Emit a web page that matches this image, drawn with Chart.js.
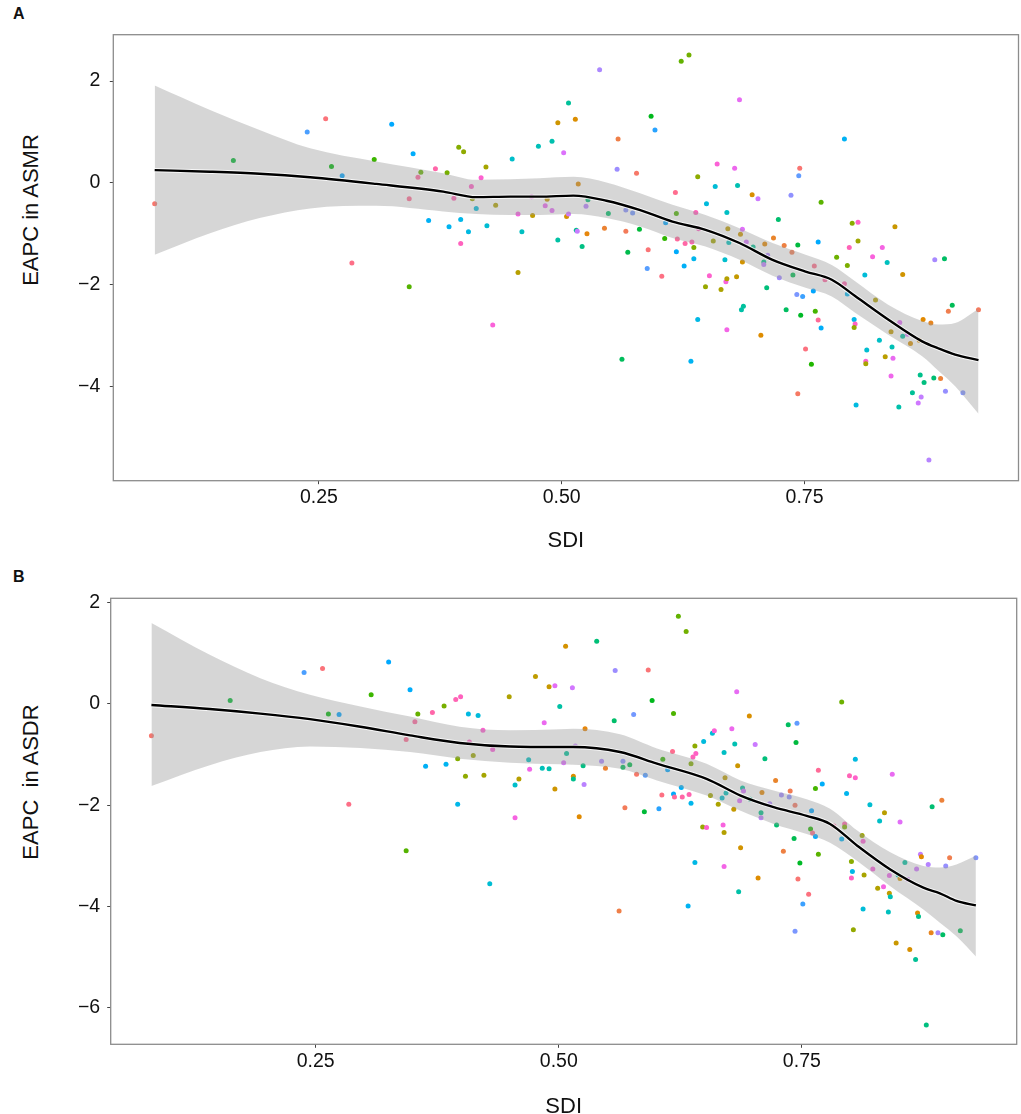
<!DOCTYPE html>
<html>
<head>
<meta charset="utf-8">
<title>EAPC vs SDI</title>
<script src="https://cdn.jsdelivr.net/npm/chart.js@4.4.1/dist/chart.umd.min.js"></script>
<style>
  html, body { margin: 0; padding: 0; background: #fff; overflow: hidden; }
  body { width: 1021px; height: 1114px; position: relative; font-family: "Liberation Sans", Arial, sans-serif; color: #111; }
  canvas { position: absolute; left: 0; }
  #chartA { top: 0; }
  #chartB { top: 557px; }
  .tag { position: absolute; left: 13px; font-size: 16px; font-weight: bold; line-height: 16px; }
  .ytitle { position: absolute; font-size: 22px; line-height: 22px; white-space: pre;
            transform: translate(-50%, -50%) rotate(-90deg); }
</style>
</head>
<body>
<div class="tag" style="top:6px">A</div>
<div class="tag" style="top:569px">B</div>
<div class="ytitle" style="left:31px; top:210px">EAPC in ASMR</div>
<div class="ytitle" style="left:31px; top:782px">EAPC  in ASDR</div>
<canvas id="chartA" width="1021" height="557"></canvas>
<canvas id="chartB" width="1021" height="570"></canvas>
<script>
// ---- data ----
const xTicks = [0.25, 0.5, 0.75];
const xTickLabels = ['0.25', '0.50', '0.75'];
const yTicksA = [-4, -2, 0, 2];
const yTicksB = [-6, -4, -2, 0, 2];

// panel A: SDI vs EAPC in ASMR
const sdiA = [0.081, 0.162, 0.238, 0.257, 0.263, 0.274, 0.284, 0.307, 0.325, 0.343, 0.343, 0.347, 0.352, 0.355, 0.363, 0.370, 0.382, 0.384, 0.389, 0.394,
  0.396, 0.396, 0.399, 0.404, 0.407, 0.408, 0.412, 0.417, 0.422, 0.423, 0.429, 0.432, 0.449, 0.455, 0.455, 0.459, 0.469, 0.470, 0.476, 0.483,
  0.485, 0.490, 0.490, 0.496, 0.496, 0.502, 0.505, 0.507, 0.507, 0.514, 0.515, 0.516, 0.517, 0.521, 0.525, 0.526, 0.527, 0.539, 0.544, 0.548,
  0.557, 0.558, 0.562, 0.566, 0.566, 0.568, 0.573, 0.577, 0.580, 0.588, 0.589, 0.592, 0.596, 0.603, 0.606, 0.607, 0.617, 0.618, 0.618, 0.619,
  0.623, 0.626, 0.627, 0.631, 0.633, 0.634, 0.636, 0.636, 0.638, 0.640, 0.640, 0.641, 0.648, 0.649, 0.652, 0.656, 0.658, 0.660, 0.664, 0.668,
  0.669, 0.670, 0.670, 0.670, 0.671, 0.672, 0.678, 0.680, 0.681, 0.683, 0.684, 0.685, 0.686, 0.686, 0.687, 0.690, 0.696, 0.697, 0.702, 0.705,
  0.708, 0.708, 0.709, 0.711, 0.712, 0.718, 0.723, 0.724, 0.729, 0.731, 0.736, 0.737, 0.738, 0.742, 0.743, 0.743, 0.744, 0.745, 0.746, 0.748,
  0.751, 0.757, 0.759, 0.760, 0.761, 0.764, 0.764, 0.767, 0.767, 0.771, 0.783, 0.791, 0.791, 0.794, 0.794, 0.796, 0.799, 0.801, 0.802, 0.801,
  0.803, 0.805, 0.805, 0.812, 0.813, 0.813, 0.814, 0.820, 0.823, 0.827, 0.830, 0.833, 0.835, 0.839, 0.839, 0.840, 0.841, 0.843, 0.847, 0.848,
  0.851, 0.851, 0.856, 0.859, 0.861, 0.867, 0.868, 0.869, 0.870, 0.872, 0.873, 0.878, 0.880, 0.883, 0.884, 0.890, 0.894, 0.895, 0.898, 0.902,
  0.913, 0.929];
const eapcAsmr = [-0.41, 0.44, 1.00, 1.26, 0.32, 0.14, -1.57, 0.46, 1.15, -0.31, -2.04, 0.57, 0.11, 0.21, -0.74, 0.28, 0.20, -0.86, -0.30, 0.70,
  -0.72, -1.19, 0.61, -0.96, -0.07, -0.31, -0.50, 0.10, 0.31, -0.84, -2.79, -0.44, 0.47, -0.61, -1.76, -0.96, -0.27, -0.64, 0.72, -0.45,
  -0.32, 0.82, -0.54, 1.18, -1.12, 0.59, -0.66, 1.57, -0.61, 1.25, -0.93, -0.95, -0.02, -1.25, -0.46, -1.00, -0.33, 2.22, -0.89, -0.60,
  0.27, 0.86, -3.46, -0.53, -0.95, -1.36, -0.59, 0.19, -0.91, -1.68, -1.31, 1.31, 1.04, -1.83, -1.09, -0.78, -0.19, -0.60, -1.35, -1.10,
  2.39, -1.63, -1.19, 2.51, -3.50, -1.16, -1.27, -1.49, -0.58, 0.12, -2.68, -0.90, -2.04, -0.41, -1.82, -1.14, -0.07, 0.37, -2.09, -1.51,
  -1.94, -1.88, -0.58, -2.88, -0.90, -1.17, 0.29, -1.84, -0.05, 1.63, -1.01, -2.49, -0.91, -1.55, -2.42, -1.16, -0.23, -1.26, -0.31, -2.99,
  -1.55, -1.60, -1.20, -2.06, -1.42, -1.08, -0.72, -1.86, -1.23, -2.49, -0.24, -1.36, -1.81, -2.19, -4.14, -1.22, 0.14, 0.29, -2.60, -2.23,
  -3.26, -3.56, -2.12, -1.63, -2.52, -1.16, -2.69, -0.38, -2.85, -1.90, -1.46, 0.86, -1.98, -1.62, -2.18, -1.27, -0.79, -2.68, -2.77, -2.84,
  -4.36, -0.77, -1.14, -1.81, -3.50, -3.55, -3.28, -1.45, -2.30, -3.09, -1.27, -3.41, -1.56, -3.79, -2.92, -3.22, -3.44, -0.86, -4.40, -2.74,
  -1.80, -3.01, -2.97, -3.15, -4.12, -4.32, -3.09, -3.77, -4.20, -2.68, -3.92, -5.44, -2.75, -3.83, -1.51, -3.84, -1.49, -4.09, -2.52, -2.40,
  -4.12, -2.49];
const smoothSdiA = [0.081, 0.138, 0.189, 0.241, 0.309, 0.378, 0.412, 0.447, 0.477, 0.512, 0.546, 0.580, 0.614, 0.648, 0.683, 0.717, 0.751, 0.778, 0.802, 0.836, 0.871, 0.888, 0.905, 0.929];
const fitA = [0.25, 0.22, 0.18, 0.11, -0.02, -0.17, -0.28, -0.27, -0.27, -0.25, -0.35, -0.53, -0.76, -0.92, -1.18, -1.51, -1.74, -1.90, -2.22, -2.68, -3.11, -3.25, -3.37, -3.48];
const upperA = [1.91, 1.43, 1.04, 0.68, 0.42, 0.19, 0.06, 0.07, 0.09, 0.12, 0.01, -0.20, -0.43, -0.63, -0.89, -1.18, -1.41, -1.61, -1.93, -2.39, -2.71, -2.78, -2.75, -2.47];
const lowerA = [-1.41, -0.99, -0.69, -0.50, -0.45, -0.56, -0.61, -0.63, -0.63, -0.61, -0.69, -0.85, -1.08, -1.25, -1.51, -1.82, -2.06, -2.23, -2.55, -2.98, -3.40, -3.69, -3.99, -4.53];

// panel B: SDI vs EAPC in ASDR
const sdiB = [0.081, 0.162, 0.238, 0.257, 0.263, 0.274, 0.284, 0.307, 0.325, 0.343, 0.343, 0.347, 0.352, 0.355, 0.363, 0.370, 0.382, 0.384, 0.394, 0.396,
  0.396, 0.399, 0.404, 0.407, 0.408, 0.412, 0.417, 0.422, 0.423, 0.429, 0.432, 0.449, 0.455, 0.455, 0.459, 0.469, 0.470, 0.476, 0.483, 0.485,
  0.490, 0.490, 0.496, 0.496, 0.501, 0.505, 0.507, 0.508, 0.514, 0.515, 0.515, 0.517, 0.521, 0.525, 0.526, 0.527, 0.539, 0.544, 0.548, 0.557,
  0.558, 0.562, 0.566, 0.566, 0.568, 0.573, 0.577, 0.580, 0.588, 0.589, 0.592, 0.596, 0.603, 0.606, 0.607, 0.612, 0.617, 0.618, 0.618, 0.619,
  0.623, 0.626, 0.627, 0.631, 0.633, 0.634, 0.636, 0.636, 0.638, 0.640, 0.640, 0.641, 0.648, 0.649, 0.652, 0.656, 0.658, 0.660, 0.664, 0.668,
  0.669, 0.670, 0.670, 0.670, 0.671, 0.672, 0.678, 0.680, 0.681, 0.683, 0.684, 0.685, 0.686, 0.687, 0.689, 0.690, 0.696, 0.697, 0.702, 0.705,
  0.708, 0.708, 0.709, 0.712, 0.717, 0.723, 0.724, 0.729, 0.731, 0.736, 0.737, 0.738, 0.742, 0.743, 0.743, 0.744, 0.745, 0.746, 0.748, 0.751,
  0.757, 0.759, 0.760, 0.761, 0.764, 0.764, 0.767, 0.767, 0.771, 0.783, 0.791, 0.791, 0.794, 0.794, 0.796, 0.799, 0.801, 0.802, 0.801, 0.803,
  0.805, 0.805, 0.812, 0.813, 0.813, 0.814, 0.820, 0.823, 0.828, 0.830, 0.834, 0.835, 0.839, 0.840, 0.840, 0.841, 0.843, 0.847, 0.849, 0.851,
  0.851, 0.856, 0.859, 0.861, 0.867, 0.868, 0.869, 0.870, 0.872, 0.873, 0.878, 0.880, 0.883, 0.884, 0.890, 0.894, 0.895, 0.898, 0.902, 0.913,
  0.929];
const eapcAsdr = [-0.63, 0.07, 0.62, 0.70, -0.20, -0.21, -1.98, 0.18, 0.83, -0.70, -2.90, 0.28, -0.35, -0.20, -1.23, -0.17, -0.04, -1.19, 0.09, -1.08,
  -1.98, 0.14, -1.43, -0.20, -0.75, -1.02, -0.23, -0.52, -1.41, -3.55, -0.90, 0.14, -1.60, -2.25, -1.48, -1.10, -1.29, 0.54, -1.27, -0.37,
  0.34, -1.28, 0.36, -1.68, -0.05, -1.16, 1.14, -0.98, 0.32, -1.43, -1.48, -0.83, -2.23, -1.22, -1.59, -0.49, 1.24, -1.13, -1.27, -0.33,
  0.66, -4.09, -1.25, -1.13, -2.05, -1.20, -0.21, -1.39, -2.13, -1.41, 0.67, 0.07, -2.07, -1.80, -1.09, -1.30, -0.94, -0.19, -1.78, -1.84,
  1.73, -1.65, -1.84, 1.43, -3.99, -1.79, -1.18, -1.96, -1.05, -0.83, -3.13, -0.98, -2.43, -0.74, -2.44, -1.81, -0.58, -0.53, -1.98, -1.86,
  -2.39, -2.54, -0.96, -3.21, -1.46, -1.76, -0.49, -2.08, -0.79, 0.24, -1.22, -3.71, -1.91, -2.84, -1.66, -1.72, -0.24, -1.88, -0.80, -3.44,
  -2.15, -2.25, -1.75, -1.08, -1.97, -1.51, -2.39, -1.80, -2.91, -0.41, -1.84, -1.72, -2.66, -4.49, -2.00, -0.76, -0.38, -3.46, -3.14, -3.95,
  -3.76, -2.47, -2.11, -2.55, -1.67, -2.62, -1.31, -2.97, -1.58, -2.41, 0.04, -2.67, -2.37, -2.43, -1.77, -1.42, -3.11, -3.31, -3.44, -4.46,
  -1.09, -1.46, -2.60, -4.05, -2.71, -3.38, -1.99, -3.26, -3.64, -2.31, -3.61, -2.15, -4.11, -3.39, -3.74, -3.81, -1.39, -4.72, -3.38, -2.33,
  -3.45, -3.13, -3.47, -4.85, -5.05, -3.26, -4.13, -4.20, -2.97, -3.02, -6.34, -3.17, -4.52, -2.03, -4.52, -1.90, -4.56, -3.20, -3.04, -4.48,
  -3.04];
const smoothSdiB = [0.081, 0.141, 0.193, 0.244, 0.296, 0.347, 0.398, 0.450, 0.501, 0.515, 0.563, 0.601, 0.652, 0.687, 0.721, 0.755, 0.779, 0.807, 0.841, 0.875, 0.892, 0.909, 0.929];
const fitB = [-0.02, -0.10, -0.19, -0.30, -0.45, -0.62, -0.77, -0.84, -0.85, -0.85, -0.95, -1.18, -1.48, -1.81, -2.04, -2.21, -2.37, -2.80, -3.27, -3.63, -3.74, -3.89, -3.98];
const upperB = [1.60, 0.97, 0.51, 0.18, -0.05, -0.25, -0.45, -0.52, -0.50, -0.49, -0.60, -0.88, -1.18, -1.51, -1.71, -1.88, -2.07, -2.50, -2.93, -3.20, -3.23, -3.17, -3.00];
const lowerB = [-1.62, -1.21, -0.95, -0.84, -0.87, -0.95, -1.08, -1.16, -1.19, -1.20, -1.28, -1.51, -1.81, -2.11, -2.37, -2.57, -2.74, -3.10, -3.60, -4.06, -4.32, -4.59, -4.99];

// ---- styling ----
const FONT = '"Liberation Sans", Arial, sans-serif';
const TEXT = '#111';

// ggplot-like hue colours (hcl, c=100, l=65), one per country
function hcl(h, c, l) {
    const hr = h * Math.PI / 180;
    const u = c * Math.cos(hr), v = c * Math.sin(hr);
    const Xn = 95.047, Yn = 100, Zn = 108.883;
    const un = 4 * Xn / (Xn + 15 * Yn + 3 * Zn), vn = 9 * Yn / (Xn + 15 * Yn + 3 * Zn);
    const Y = Yn * Math.pow((l + 16) / 116, 3);
    const up = u / (13 * l) + un, vp = v / (13 * l) + vn;
    const X = Y * 9 * up / (4 * vp), Z = Y * (12 - 3 * up - 20 * vp) / (4 * vp);
    const x = X / 100, y = Y / 100, z = Z / 100;
    const lin = [3.2406 * x - 1.5372 * y - 0.4986 * z,
                 -0.9689 * x + 1.8758 * y + 0.0415 * z,
                 0.0557 * x - 0.2040 * y + 1.0570 * z];
    const gam = t => {
        t = Math.max(0, Math.min(1, t));
        return t <= 0.0031308 ? 12.92 * t : 1.055 * Math.pow(t, 1 / 2.4) - 0.055;
    };
    const [r, g, b] = lin.map(t => Math.round(gam(t) * 255));
    return `rgb(${r}, ${g}, ${b})`;
}
const N_COUNTRIES = 204;
const countryColor = i => hcl(15 + 360 * ((i * 67) % N_COUNTRIES) / N_COUNTRIES, 100, 65);

const toPoints = (xs, ys) => xs.map((x, i) => ({ x: x, y: ys[i] }));

// full grey frame around the plotting panel
const panelBox = {
    id: 'panelBox',
    afterDraw(chart) {
        const { ctx, chartArea: a } = chart;
        ctx.save();
        ctx.strokeStyle = '#8c8c8c';
        ctx.lineWidth = 1.3;
        ctx.strokeRect(a.left, a.top, a.right - a.left, a.bottom - a.top);
        ctx.restore();
    }
};

function drawPanel(id, p) {
    const ctx = document.getElementById(id).getContext('2d');
    const lineStyle = { type: 'line', pointRadius: 0, fill: false, cubicInterpolationMode: 'monotone' };

    new Chart(ctx, {
        type: 'scatter',
        data: {
            datasets: [
                { ...lineStyle, data: toPoints(p.smoothSdi, p.fit), borderColor: '#000', borderWidth: 2.4 },
                { ...lineStyle, data: toPoints(p.smoothSdi, p.fit), borderColor: 'rgba(255,255,255,0.8)', borderWidth: 4.4 },
                { ...lineStyle, data: toPoints(p.smoothSdi, p.upper), borderColor: 'transparent', borderWidth: 0.01,
                  fill: '+1', backgroundColor: 'rgba(153,153,153,0.4)' },
                { ...lineStyle, data: toPoints(p.smoothSdi, p.lower), borderColor: 'transparent', borderWidth: 0.01 },
                {
                    data: toPoints(p.sdi, p.eapc),
                    pointRadius: 2.5,
                    pointHoverRadius: 2.5,
                    borderWidth: 0,
                    backgroundColor: p.sdi.map((_, i) => countryColor(i))
                }
            ]
        },
        options: {
            responsive: false,
            animation: false,
            events: [],
            layout: { padding: p.padding },
            scales: {
                x: {
                    type: 'linear',
                    min: p.xMin,
                    max: p.xMax,
                    afterBuildTicks: s => { s.ticks = xTicks.map(v => ({ value: v })); },
                    afterFit: s => { s.height = p.xAxisHeight; },
                    grid: { drawOnChartArea: false, drawTicks: true, tickLength: 3.5, color: '#444', lineWidth: 1 },
                    border: { display: false },
                    ticks: {
                        autoSkip: false,
                        maxRotation: 0,
                        padding: p.xTickPad,
                        color: TEXT,
                        font: { family: FONT, size: 19.5 },
                        callback: v => xTickLabels[xTicks.indexOf(v)]
                    },
                    title: {
                        display: true,
                        text: 'SDI',
                        color: TEXT,
                        font: { family: FONT, size: 22 },
                        padding: { top: 0, bottom: p.xTitlePad }
                    }
                },
                y: {
                    min: p.yMin,
                    max: p.yMax,
                    afterBuildTicks: s => { s.ticks = p.yTicks.map(v => ({ value: v })); },
                    afterFit: s => { s.width = p.yAxisWidth; },
                    grid: { drawOnChartArea: false, drawTicks: true, tickLength: 3.5, color: '#444', lineWidth: 1 },
                    border: { display: false },
                    ticks: {
                        padding: p.yTickPad,
                        color: TEXT,
                        font: { family: FONT, size: 19.5 },
                        callback: v => String(v).replace('-', '\u2212')
                    }
                }
            },
            plugins: {
                legend: { display: false },
                tooltip: { enabled: false }
            }
        },
        plugins: [panelBox]
    });
}

drawPanel('chartA', {
    sdi: sdiA, eapc: eapcAsmr,
    smoothSdi: smoothSdiA, fit: fitA, upper: upperA, lower: lowerA,
    xMin: 0.0384, xMax: 0.9702, yMin: -5.845, yMax: 2.909, yTicks: yTicksA,
    padding: { top: 34.7, right: 2, left: 0, bottom: 0 },
    yAxisWidth: 113.3, xAxisHeight: 76.3,
    xTickPad: 1.5, yTickPad: 9.5, xTitlePad: 3.3
});

drawPanel('chartB', {
    sdi: sdiB, eapc: eapcAsdr,
    smoothSdi: smoothSdiB, fit: fitB, upper: upperB, lower: lowerB,
    xMin: 0.0391, xMax: 0.971, yMin: -6.723, yMax: 2.087, yTicks: yTicksB,
    padding: { top: 41.3, right: 4.3, left: 0, bottom: 0 },
    yAxisWidth: 110.7, xAxisHeight: 82.7,
    xTickPad: 2.2, yTickPad: 7, xTitlePad: 7.3
});
</script>
</body>
</html>
